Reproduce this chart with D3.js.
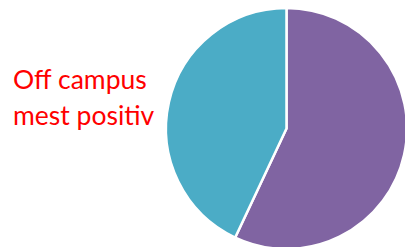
<!DOCTYPE html>
<html>
<head>
<meta charset="utf-8">
<script src="https://cdn.jsdelivr.net/npm/d3@7"></script>
<style>
  html, body { margin: 0; padding: 0; background: #fff; }
</style>
</head>
<body>
<div id="chart"></div>
<script>
const categories = ['Positiv', 'Øvrige'];
const values = [57, 43];
const colors = ['#8064A2', '#4BACC6'];
const labelLines = ['Off campus', 'mest positiv'];

const width = 405, height = 247;
const cx = 286.5, cy = 128.5, radius = 120.5;

const svg = d3.select('#chart').append('svg')
    .attr('width', width)
    .attr('height', height);

const pie = d3.pie().sort(null).value(d => d.value);
const arc = d3.arc().innerRadius(0).outerRadius(radius);

const data = categories.map((c, i) => ({ name: c, value: values[i] }));

const g = svg.append('g')
    .attr('transform', `translate(${cx},${cy})`);

g.selectAll('path')
    .data(pie(data))
    .enter()
    .append('path')
    .attr('d', arc)
    .attr('fill', (d, i) => colors[i])
    .attr('stroke', '#fff')
    .attr('stroke-width', 2.5)
    .attr('stroke-linejoin', 'round');

// label on the left
svg.append('g')
    .selectAll('text')
    .data(labelLines)
    .enter()
    .append('text')
    .attr('x', 13)
    .attr('y', (d, i) => 89 + i * 36)
    .attr('fill', '#ff0000')
    .attr('font-family', 'Lato, "Open Sans", sans-serif')
    .attr('font-size', '26.5px')
    .text(d => d);
</script>
</body>
</html>
